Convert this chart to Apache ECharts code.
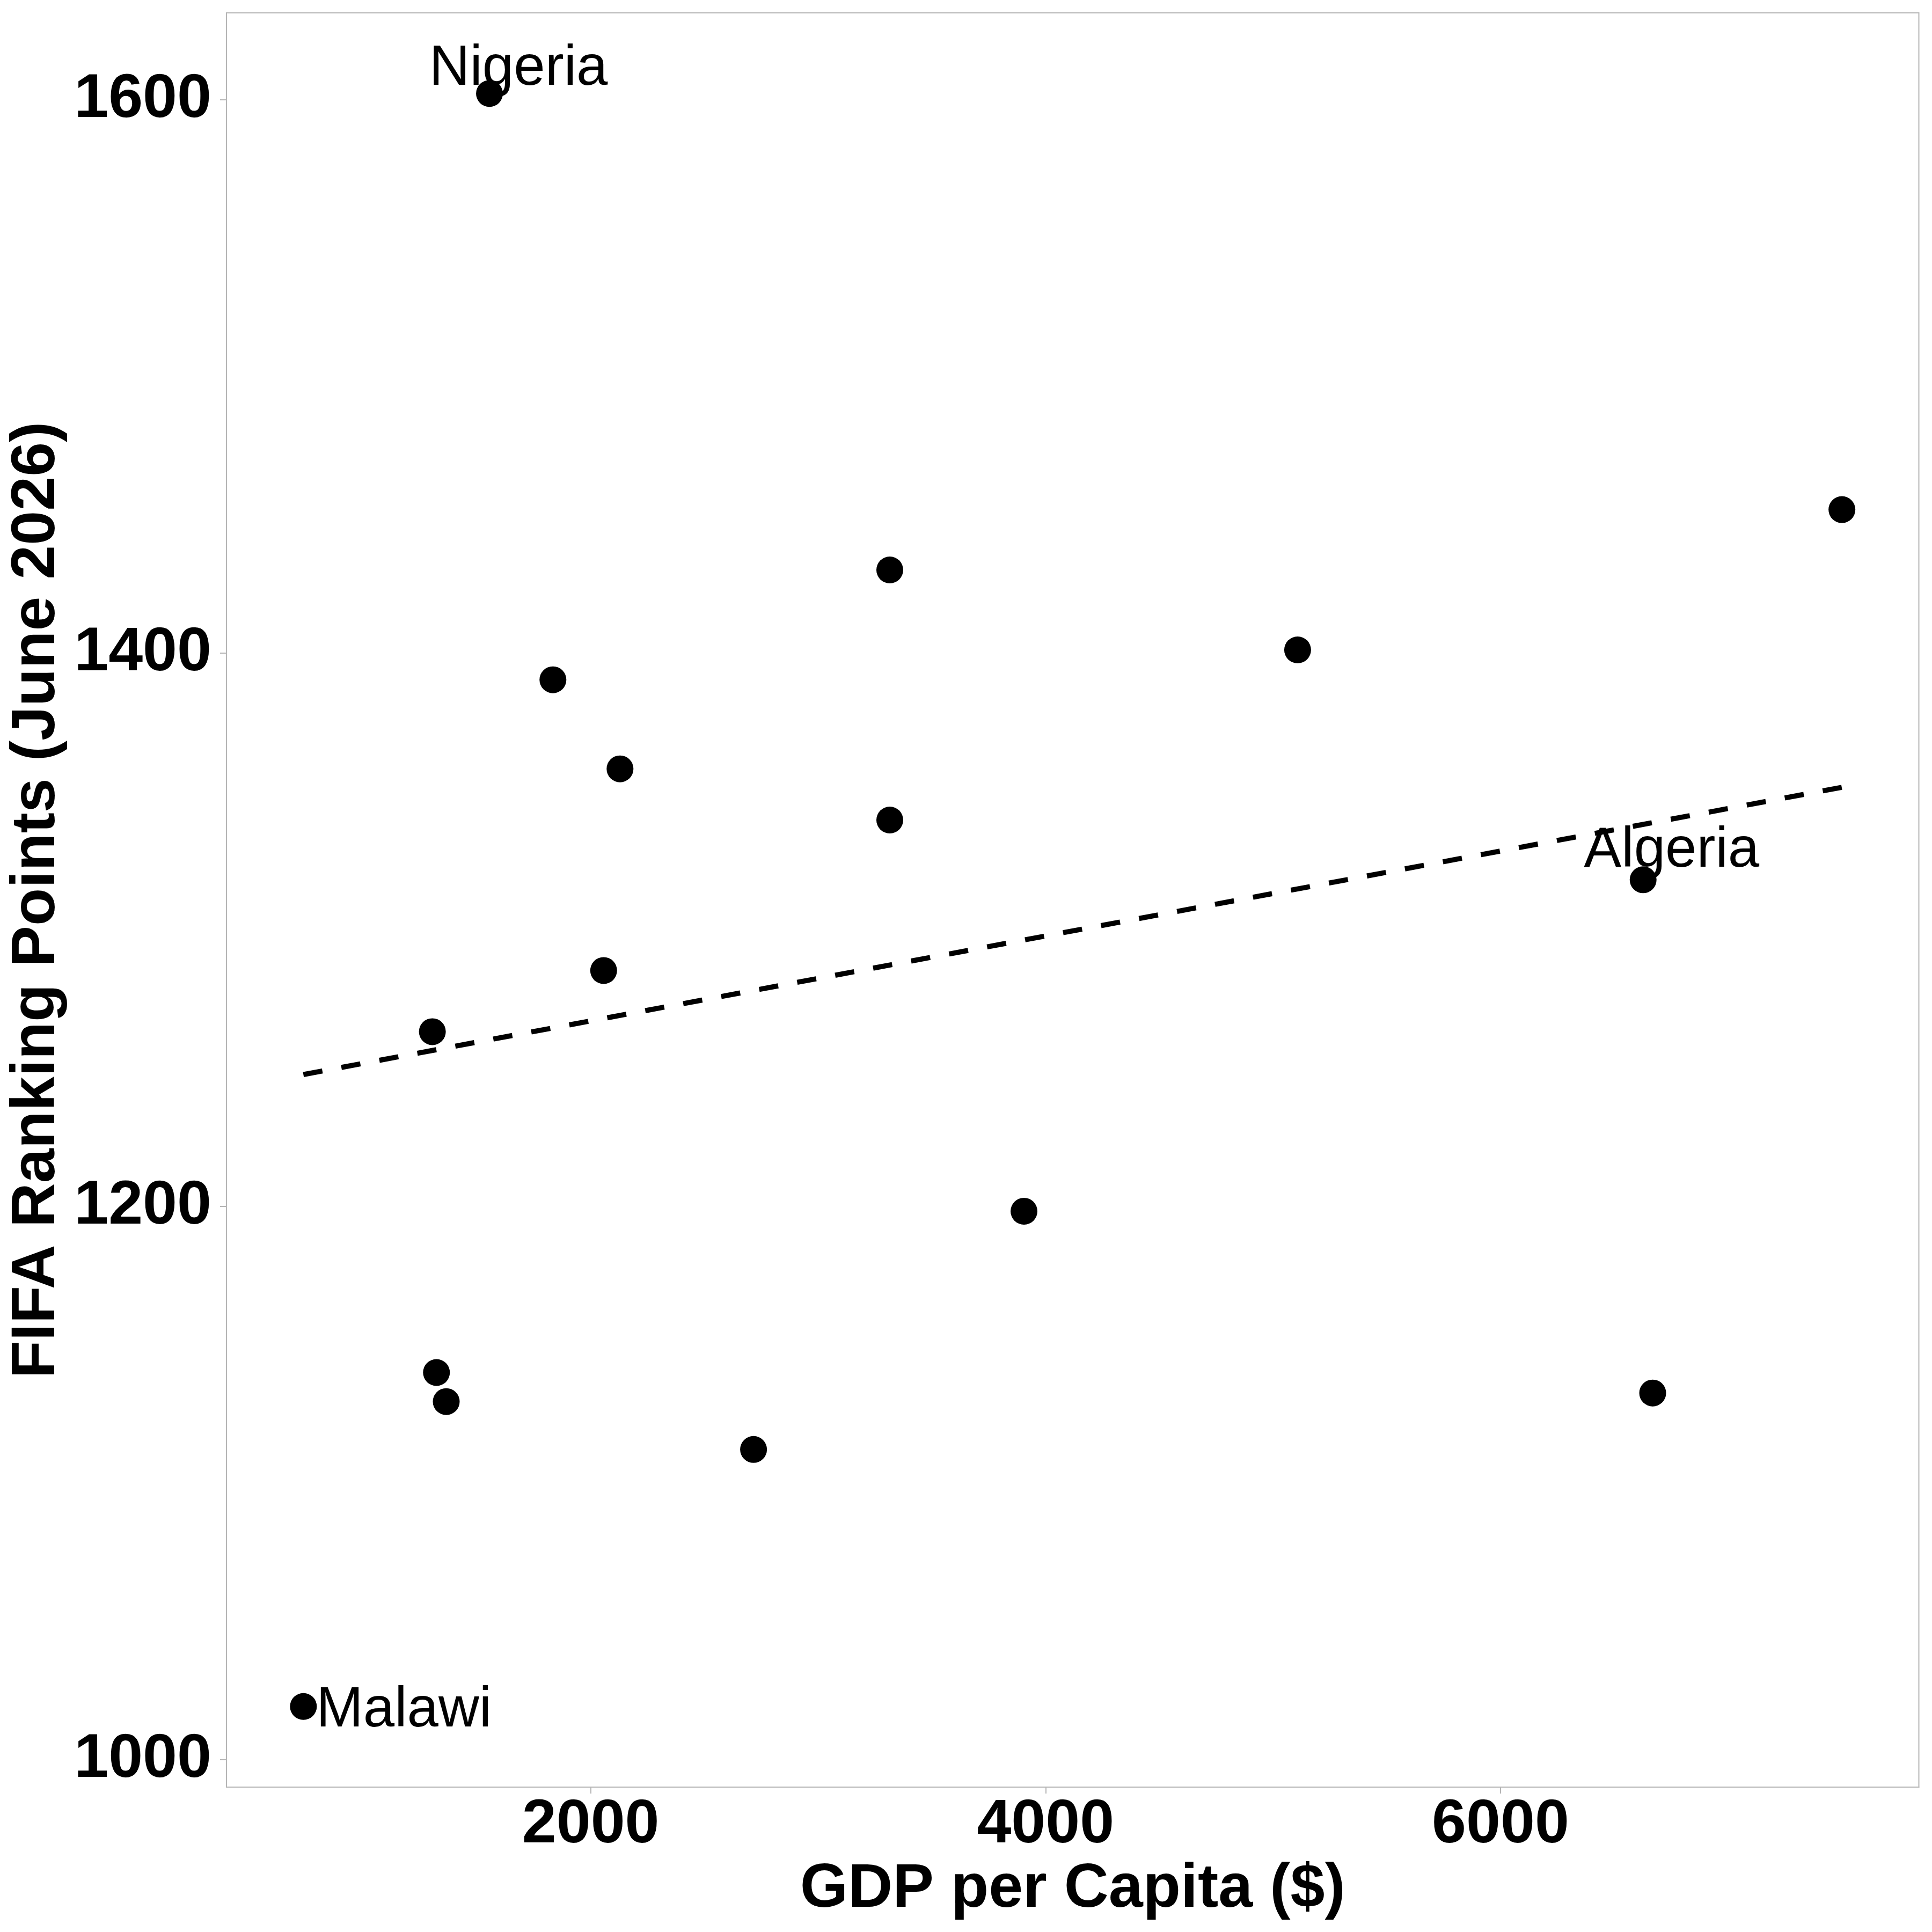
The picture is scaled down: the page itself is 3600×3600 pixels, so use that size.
<!DOCTYPE html>
<html>
<head>
<meta charset="utf-8">
<script src="https://cdn.jsdelivr.net/npm/echarts@6/dist/echarts.min.js"></script>
<style>
html,body{margin:0;padding:0;background:#fff;}
#chart{width:3600px;height:3600px;}
</style>
</head>
<body>
<div id="chart"></div>
<script>
// ---- data ----
const countries = ['Malawi','Nigeria','','','','','','','Algeria','','','','','','',''];
const gdpPerCapita = [737, 1555, 3315, 7501, 5108, 1834, 2129, 3315, 6627, 2057, 1304, 3905, 1322, 1365, 6669, 2716];
const fifaPoints = [1019.3, 1602.3, 1430.1, 1451.9, 1401.2, 1390.4, 1358.2, 1339.7, 1318.1, 1285.3, 1263.2, 1198.3, 1140.0, 1129.5, 1132.6, 1112.2];
const xTicks = [2000, 4000, 6000];
const yTicks = [1000, 1200, 1400, 1600];

// ---- label placement (style) ----
const labelPlacement = {
  'Nigeria': {align: 'center', offset: [54, -45]},
  'Algeria': {align: 'center', offset: [53, -53]},
  'Malawi':  {align: 'left',   offset: [24, 8]}
};

// least-squares fit (as the reference's linear trend)
const n = gdpPerCapita.length;
const mx = gdpPerCapita.reduce((a, b) => a + b, 0) / n;
const my = fifaPoints.reduce((a, b) => a + b, 0) / n;
let sxy = 0, sxx = 0;
for (let i = 0; i < n; i++) {
  sxy += (gdpPerCapita[i] - mx) * (fifaPoints[i] - my);
  sxx += (gdpPerCapita[i] - mx) * (gdpPerCapita[i] - mx);
}
const slope = sxy / sxx;
const intercept = my - slope * mx;
const xMinD = Math.min(...gdpPerCapita), xMaxD = Math.max(...gdpPerCapita);
const yMinD = Math.min(...fifaPoints), yMaxD = Math.max(...fifaPoints);
const trend = [[xMinD, intercept + slope * xMinD], [xMaxD, intercept + slope * xMaxD]];

// ggplot-like 5% expansion
const xr = xMaxD - xMinD, yr = yMaxD - yMinD;
const xMin = xMinD - 0.05 * xr, xMax = xMaxD + 0.05 * xr;
const yMin = yMinD - 0.05 * yr, yMax = yMaxD + 0.05 * yr;

const FONT = 'Liberation Sans';
const GRAY = '#b5b5b5';

const scatterData = gdpPerCapita.map((x, i) => {
  const name = countries[i];
  const item = {value: [x, fifaPoints[i]], name: name};
  if (name && labelPlacement[name]) {
    const p = labelPlacement[name];
    item.label = {
      show: true, position: 'inside', formatter: name,
      align: p.align, verticalAlign: 'middle', offset: p.offset,
      fontFamily: FONT, fontSize: 105, color: '#000', fontWeight: 'normal'
    };
  }
  return item;
});

const axisCommon = {
  axisLine: {show: true, lineStyle: {color: GRAY, width: 2}},
  axisTick: {show: true, length: 12, lineStyle: {color: GRAY, width: 2}},
  splitLine: {show: false},
  nameTextStyle: {fontFamily: FONT, fontSize: 115, fontWeight: 'bold', color: '#000'}
};
const plain = v => String(Math.round(v));

const chart = echarts.init(document.getElementById('chart'), null, {renderer: 'canvas'});
chart.setOption({
  backgroundColor: '#fff',
  animation: false,
  grid: {left: 422, right: 24.5, top: 24, bottom: 270, containLabel: false, outerBoundsMode: 'none',
         show: true, borderColor: GRAY, borderWidth: 2, backgroundColor: '#fff'},
  xAxis: Object.assign({}, axisCommon, {
    type: 'value', min: xMin, max: xMax,
    name: 'GDP per Capita ($)', nameLocation: 'middle', nameGap: 124,
    axisTick: Object.assign({}, axisCommon.axisTick, {customValues: xTicks}),
    axisLabel: {customValues: xTicks, formatter: plain, margin: 14, fontFamily: FONT, fontSize: 115, fontWeight: 'bold', color: '#000'}
  }),
  yAxis: Object.assign({}, axisCommon, {
    type: 'value', min: yMin, max: yMax,
    name: 'FIFA Ranking Points (June 2026)', nameLocation: 'middle', nameGap: 292,
    axisTick: Object.assign({}, axisCommon.axisTick, {customValues: yTicks}),
    axisLabel: {customValues: yTicks, formatter: plain, margin: 28, fontFamily: FONT, fontSize: 115, fontWeight: 'bold', color: '#000'}
  }),
  series: [
    {
      type: 'line', data: trend, symbol: 'none', silent: true, z: 1,
      lineStyle: {color: '#000', width: 9.5, type: [36, 36], cap: 'butt'}
    },
    {
      type: 'scatter', data: scatterData, symbol: 'circle', symbolSize: 50, z: 2,
      itemStyle: {color: '#000', opacity: 1},
      label: {show: false}
    }
  ]
});
</script>
</body>
</html>
